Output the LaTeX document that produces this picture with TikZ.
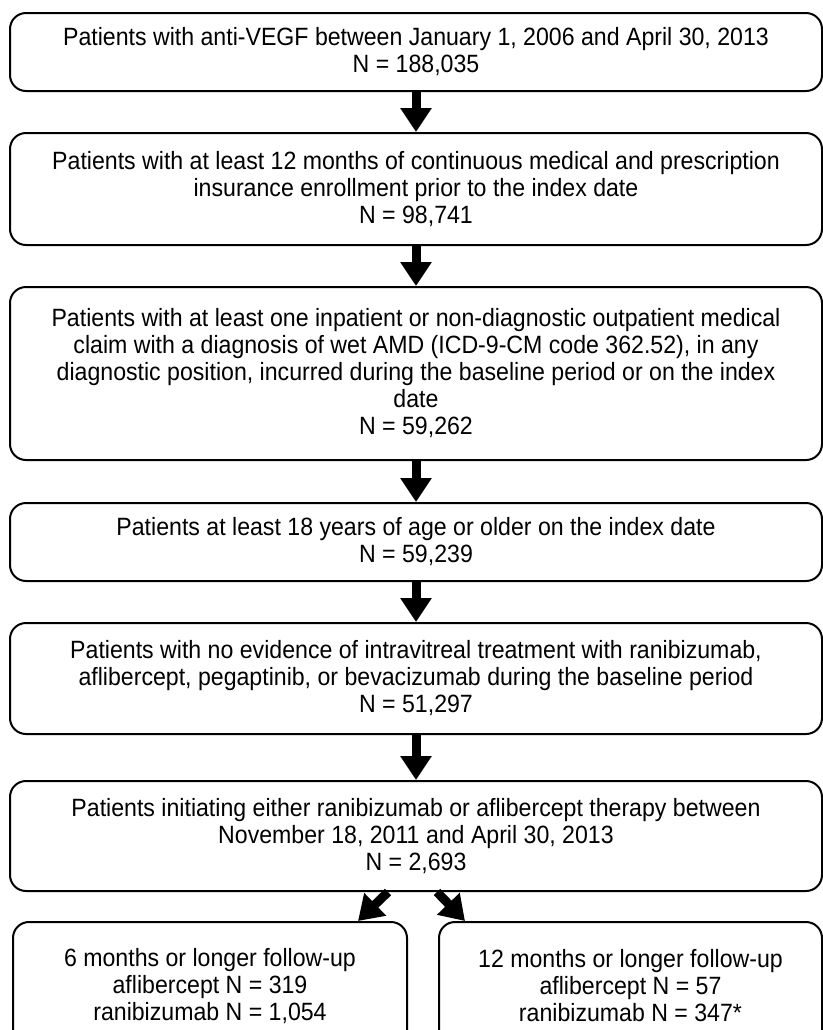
\documentclass[tikz,border=0pt]{standalone}
\usepackage{fontspec}
\setmainfont{Liberation Sans}[FakeStretch=0.925]
\usetikzlibrary{arrows.meta,
	positioning}

\tikzset{
	stage/.style={draw, line width=1pt, rounded corners=8pt, align=center,
		inner sep=0pt, font=\fontsize{12.5}{13.5}\selectfont},
	flow/.style={line width=4.5pt, -{Triangle[length=12pt,width=15pt]}}
}

\begin{document}
\begin{tikzpicture}[x=0.5pt,y=-0.5pt]
        \useasboundingbox (0,0) rectangle (823,1030);

        %anti-VEGF
        \node[stage, minimum width=406pt, minimum height=39pt] (all) at (416,52)
            {Patients with anti-VEGF between January 1, 2006 and April 30, 2013\\N = 188,035};

        %enrollment
        \node[stage, minimum width=406pt, minimum height=56pt] (enroll) at (416,189)
            {Patients with at least 12 months of continuous medical and prescription\\insurance enrollment prior to the index date\\N = 98,741};

        %wet AMD
        \node[stage, minimum width=406pt, minimum height=86.5pt] (amd) at (416,373.5)
            {Patients with at least one inpatient or non-diagnostic outpatient medical\\claim with a diagnosis of wet AMD (ICD-9-CM code 362.52), in any\\diagnostic position, incurred during the baseline period or on the index\\date\\N = 59,262};

        %age
        \node[stage, minimum width=406pt, minimum height=39pt] (age) at (416,542)
            {Patients at least 18 years of age or older on the index date\\N = 59,239};

        %naive
        \node[stage, minimum width=406pt, minimum height=55.5pt] (naive) at (416,678.5)
            {Patients with no evidence of intravitreal treatment with ranibizumab,\\aflibercept, pegaptinib, or bevacizumab during the baseline period\\N = 51,297};

        %initiating
        \node[stage, minimum width=406pt, minimum height=55pt] (init) at (416,836)
            {Patients initiating either ranibizumab or aflibercept therapy between\\November 18, 2011 and April 30, 2013\\N = 2,693};

        %follow-up
        \node[stage, minimum width=197pt, minimum height=64pt] (six) at (210,986)
            {6 months or longer follow-up\\aflibercept N = 319\\ranibizumab N = 1,054};
        \node[stage, minimum width=191.5pt, minimum height=64pt] (twelve) at (630.5,986)
            {12 months or longer follow-up\\aflibercept N = 57\\ranibizumab N = 347*};

        \draw[flow] (all) -- (enroll);
        \draw[flow] (enroll) -- (amd);
        \draw[flow] (amd) -- (age);
        \draw[flow] (age) -- (naive);
        \draw[flow] (naive) -- (init);
        \draw[flow] ([xshift=-14pt]init.south) -- ([xshift=-25pt]six.north east);
        \draw[flow] ([xshift=10.5pt]init.south) -- ([xshift=13.5pt]twelve.north west);
\end{tikzpicture}
\end{document}
